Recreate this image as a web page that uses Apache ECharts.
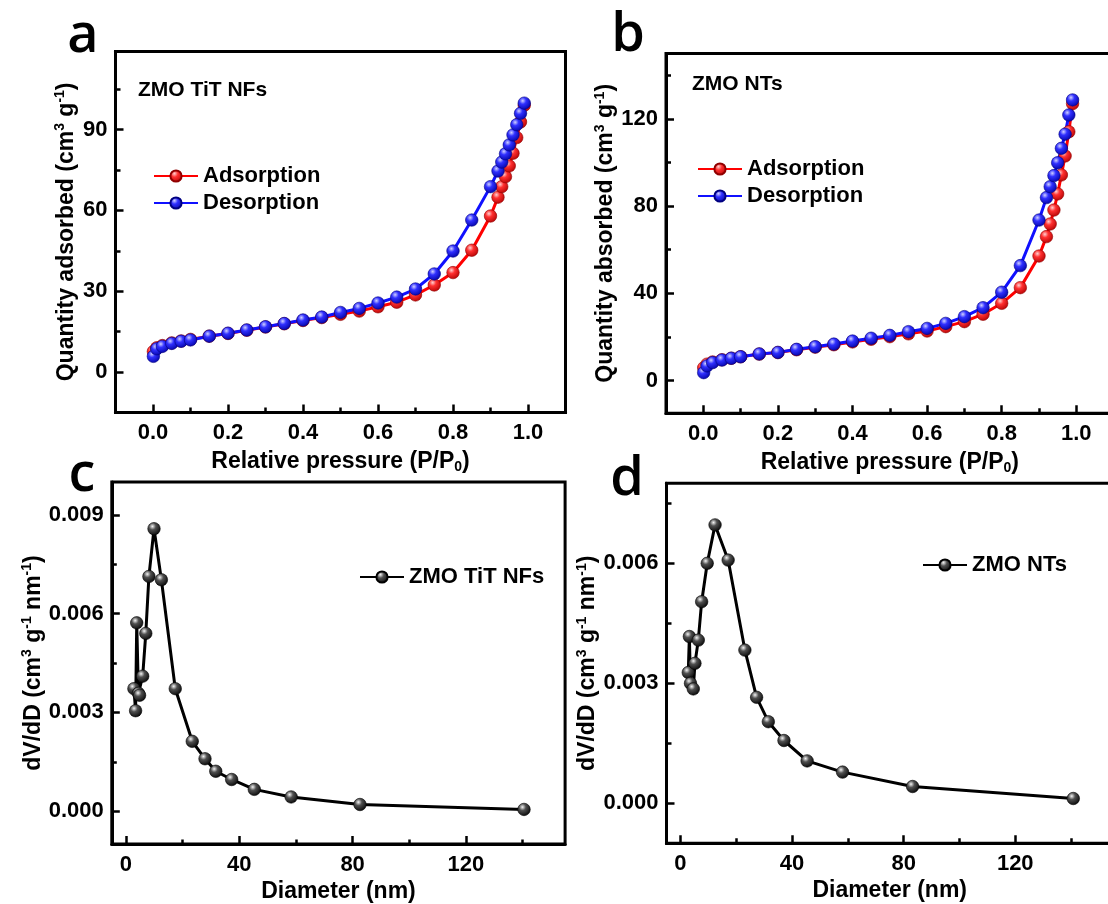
<!DOCTYPE html>
<html><head><meta charset="utf-8">
<script src="https://cdn.jsdelivr.net/npm/echarts@6/dist/echarts.min.js"></script>
<style>html,body{margin:0;padding:0;background:#fff;overflow:hidden;width:1108px;height:904px}#c{width:1130px;height:904px}</style>
</head><body><div id="c"></div>
<script>
// ---------- DATA ----------
const pressure = [0.001, 0.01, 0.025, 0.05, 0.075, 0.1, 0.15, 0.2, 0.25, 0.3, 0.35, 0.4, 0.45, 0.5, 0.55, 0.6, 0.65, 0.7, 0.75, 0.8, 0.85, 0.9, 0.92, 0.93, 0.94, 0.95, 0.96, 0.97, 0.98, 0.99];
const adsorptionA = [7.6, 9.0, 9.8, 10.8, 11.5, 12.1, 13.3, 14.3, 15.5, 16.7, 17.9, 19.1, 20.2, 21.4, 22.6, 24.2, 25.9, 28.6, 32.3, 36.9, 45.2, 57.9, 64.9, 68.8, 72.5, 76.5, 81.2, 87.0, 92.8, 99.0];
const desorptionA = [5.8, 8.6, 9.5, 10.6, 11.4, 11.9, 13.3, 14.4, 15.6, 16.8, 18.0, 19.3, 20.4, 22.1, 23.6, 25.6, 27.8, 30.8, 36.4, 44.9, 56.4, 68.8, 74.6, 77.9, 81.0, 84.3, 88.0, 91.8, 96.0, 99.8];
const adsorptionB = [5.8, 7.5, 8.5, 9.5, 10.2, 10.9, 12.1, 12.8, 14.1, 15.3, 16.4, 17.7, 18.9, 20.1, 21.4, 22.7, 24.7, 27.0, 30.4, 35.4, 42.6, 57.1, 66.0, 71.8, 78.2, 85.6, 94.3, 103.0, 114.1, 127.0];
const desorptionB = [3.6, 6.7, 8.2, 9.4, 10.2, 10.9, 12.2, 12.9, 14.3, 15.5, 16.7, 18.1, 19.4, 20.7, 22.4, 23.9, 26.2, 29.3, 33.4, 40.5, 52.7, 73.6, 83.9, 88.9, 94.0, 99.9, 106.5, 113.0, 121.8, 128.7];
const diameterC = [2.8, 3.4, 3.8, 4.4, 4.8, 5.9, 7.0, 8.1, 9.9, 12.5, 17.4, 23.4, 27.9, 31.7, 37.3, 45.3, 58.3, 82.6, 140.5];
const dvdC = [0.00372, 0.00305, 0.00572, 0.00358, 0.00352, 0.00410, 0.00540, 0.00713, 0.00858, 0.00703, 0.00372, 0.00212, 0.00159, 0.00121, 0.00096, 0.00066, 0.00043, 0.00020, 0.00005];
const diameterD = [2.8, 3.2, 3.6, 4.6, 5.2, 6.4, 7.6, 9.6, 12.4, 17.1, 23.1, 27.3, 31.5, 37.1, 45.4, 58.1, 83.2, 140.8];
const dvdD = [0.00327, 0.00417, 0.00300, 0.00286, 0.00350, 0.00408, 0.00504, 0.00600, 0.00696, 0.00608, 0.00383, 0.00265, 0.00204, 0.00157, 0.00106, 0.00078, 0.00042, 0.00012];

const pressureTicks = [0, 0.2, 0.4, 0.6, 0.8, 1.0];
const pressureMinor = [0.1, 0.3, 0.5, 0.7, 0.9];
const qTicksA = [0, 30, 60, 90];
const qMinorA = [15, 45, 75, 105];
const qTicksB = [0, 40, 80, 120];
const qMinorB = [20, 60, 100, 140];
const diamTicks = [0, 40, 80, 120];
const diamMinor = [20, 60, 100, 140];
const dvdTicksC = [0, 0.003, 0.006, 0.009];
const dvdTicksD = [0, 0.003, 0.006];
const dvdMinor = [0.0015, 0.0045, 0.0075];

// ---------- STYLE / LAYOUT ----------
const FF = '"Liberation Sans", Arial, sans-serif';
const pair = (xs, ys) => xs.map((x, i) => [x, ys[i]]);
function ball(c0, c1, c2) {
  return { type: 'radial', x: 0.38, y: 0.32, r: 0.75,
    colorStops: [{ offset: 0, color: c0 }, { offset: 0.35, color: c1 }, { offset: 1, color: c2 }] };
}
const RED = '#ff0000', BLUE = '#1010ff';
const ballRed = ball('#ffd0d0', '#ff3030', '#b00000');
const ballBlue = ball('#d0d0ff', '#3030ff', '#0000a0');
const ballBlack = ball('#f4f4f4', '#505050', '#000000');

const panels = [
  { rect: { left: 115.5, top: 51.4, width: 450, height: 361 }, xr: [-0.1, 1.1], yr: [-15, 119],
    xt: pressureTicks, xm: pressureMinor, yt: qTicksA, ym: qMinorA, xf: v => v.toFixed(1), yf: v => String(v),
    xname: 'Relative pressure (P/P{sub|0})', yname: 'Quantity adsorbed (cm{sup|3} g{sup|-1})', ygap: 36 },
  { rect: { left: 666, top: 53.5, width: 447.6, height: 359.7 }, xr: [-0.1, 1.1], yr: [-15, 150],
    xt: pressureTicks, xm: pressureMinor, yt: qTicksB, ym: qMinorB, xf: v => v.toFixed(1), yf: v => String(v),
    xname: 'Relative pressure (P/P{sub|0})', yname: 'Quantity absorbed (cm{sup|3} g{sup|-1})', ygap: 46 },
  { rect: { left: 111.8, top: 482, width: 453.3, height: 362.6 }, xr: [-5, 155], yr: [-0.001, 0.01],
    xt: diamTicks, xm: diamMinor, yt: dvdTicksC, ym: dvdMinor, xf: v => String(v), yf: v => v.toFixed(3),
    xname: 'Diameter (nm)', yname: 'dV/dD (cm{sup|3} g{sup|-1} nm{sup|-1})', ygap: 61 },
  { rect: { left: 666.5, top: 483.3, width: 446.4, height: 360 }, xr: [-5, 155], yr: [-0.001, 0.008],
    xt: diamTicks, xm: diamMinor, yt: dvdTicksD, ym: dvdMinor, xf: v => String(v), yf: v => v.toFixed(3),
    xname: 'Diameter (nm)', yname: 'dV/dD (cm{sup|3} g{sup|-1} nm{sup|-1})', ygap: 61 }
];

const nameStyle = {
  fontSize: 23, fontWeight: 'bold', fontFamily: FF, color: '#000',
  rich: {
    sup: { fontSize: 14, fontWeight: 'bold', fontFamily: FF, color: '#000', verticalAlign: 'top', lineHeight: 26 },
    sub: { fontSize: 14, fontWeight: 'bold', fontFamily: FF, color: '#000', verticalAlign: 'bottom', lineHeight: 26 }
  }
};
const tickLine = { color: '#000', width: 2.5 };
const labelStyle = { fontSize: 22, fontWeight: 'bold', fontFamily: FF, color: '#000' };

const grid = [], xAxis = [], yAxis = [];
panels.forEach((p, i) => {
  grid.push(Object.assign({ show: true, borderColor: '#000', borderWidth: 3, backgroundColor: 'transparent', containLabel: false }, p.rect));
});
panels.forEach((p, i) => {
  grid.push(Object.assign({ show: false, containLabel: false }, p.rect));
});
panels.forEach((p, i) => {
  xAxis.push({ type: 'value', gridIndex: i, min: p.xr[0], max: p.xr[1], position: 'bottom',
    axisLine: { show: true, onZero: false, lineStyle: { color: '#000', width: 3 } },
    axisTick: { show: true, inside: true, length: 8, lineStyle: tickLine, customValues: p.xt },
    axisLabel: Object.assign({ show: true, margin: 10, customValues: p.xt, formatter: p.xf }, labelStyle),
    splitLine: { show: false },
    name: p.xname, nameLocation: 'middle', nameGap: 36, nameTextStyle: nameStyle });
  yAxis.push({ type: 'value', gridIndex: i, min: p.yr[0], max: p.yr[1], position: 'left',
    axisLine: { show: true, onZero: false, lineStyle: { color: '#000', width: 3 } },
    axisTick: { show: true, inside: true, length: 8, lineStyle: tickLine, customValues: p.yt },
    axisLabel: Object.assign({ show: true, margin: 8, customValues: p.yt, formatter: p.yf }, labelStyle),
    splitLine: { show: false },
    name: p.yname, nameLocation: 'middle', nameGap: p.ygap, nameRotate: 90, nameTextStyle: nameStyle });
});
panels.forEach((p, i) => {
  xAxis.push({ type: 'value', gridIndex: i + 4, min: p.xr[0], max: p.xr[1], position: 'bottom',
    axisLine: { show: false, onZero: false },
    axisTick: { show: true, inside: true, length: 5, lineStyle: tickLine, customValues: p.xm },
    axisLabel: { show: false }, splitLine: { show: false } });
  yAxis.push({ type: 'value', gridIndex: i + 4, min: p.yr[0], max: p.yr[1], position: 'left',
    axisLine: { show: false, onZero: false },
    axisTick: { show: true, inside: true, length: 5, lineStyle: tickLine, customValues: p.ym },
    axisLabel: { show: false }, splitLine: { show: false } });
});

function lineSeries(name, idx, data, lineColor, fill, border) {
  return { type: 'line', name, xAxisIndex: idx, yAxisIndex: idx, data,
    symbol: 'circle', symbolSize: 12.5, showSymbol: true,
    lineStyle: { color: lineColor, width: 3 },
    itemStyle: { color: fill, borderColor: border, borderWidth: 0.6 },
    emphasis: { disabled: true }, animation: false };
}

const series = [
  lineSeries('Adsorption', 0, pair(pressure, adsorptionA), RED, ballRed, '#900000'),
  lineSeries('Desorption', 0, pair(pressure, desorptionA), BLUE, ballBlue, '#000080'),
  lineSeries('Adsorption', 1, pair(pressure, adsorptionB), RED, ballRed, '#900000'),
  lineSeries('Desorption', 1, pair(pressure, desorptionB), BLUE, ballBlue, '#000080'),
  lineSeries('ZMO TiT NFs', 2, pair(diameterC, dvdC), '#000', ballBlack, '#000'),
  lineSeries('ZMO NTs', 3, pair(diameterD, dvdD), '#000', ballBlack, '#000')
];

const legendText = { fontSize: 22, fontWeight: 'bold', fontFamily: FF, color: '#000' };
const legend = [
  { data: ['Adsorption', 'Desorption'], orient: 'vertical', left: 153, top: 165, itemWidth: 44, itemHeight: 14, itemGap: 5, selectedMode: false, textStyle: legendText, padding: 0 },
  { data: ['Adsorption', 'Desorption'], orient: 'vertical', left: 697, top: 158, itemWidth: 44, itemHeight: 14, itemGap: 5, selectedMode: false, textStyle: legendText, padding: 0 },
  { data: ['ZMO TiT NFs'], left: 359, top: 566, itemWidth: 44, itemHeight: 14, selectedMode: false, textStyle: legendText, padding: 0 },
  { data: ['ZMO NTs'], left: 922, top: 554, itemWidth: 44, itemHeight: 14, selectedMode: false, textStyle: legendText, padding: 0 }
];

const letterFont = '600 54px "Open Sans", "Noto Sans", sans-serif';
const annFont = 'bold 21px ' + FF;
const graphic = [
  { type: 'text', style: { text: 'a', x: 83, y: 37, font: letterFont, fill: '#000', align: 'center', verticalAlign: 'middle' } },
  { type: 'text', style: { text: 'b', x: 628, y: 36, font: letterFont, fill: '#000', align: 'center', verticalAlign: 'middle' } },
  { type: 'text', style: { text: 'c', x: 82, y: 476, font: letterFont, fill: '#000', align: 'center', verticalAlign: 'middle' } },
  { type: 'text', style: { text: 'd', x: 627, y: 480, font: letterFont, fill: '#000', align: 'center', verticalAlign: 'middle' } },
  { type: 'text', style: { text: 'ZMO TiT NFs', x: 138, y: 90, font: annFont, fill: '#000', align: 'left', verticalAlign: 'middle' } },
  { type: 'text', style: { text: 'ZMO NTs', x: 692, y: 84, font: annFont, fill: '#000', align: 'left', verticalAlign: 'middle' } }
];

const chart = echarts.init(document.getElementById('c'), null, { renderer: 'canvas' });
chart.setOption({ backgroundColor: '#fff', animation: false, grid, xAxis, yAxis, series, legend, graphic });
</script>
</body></html>
